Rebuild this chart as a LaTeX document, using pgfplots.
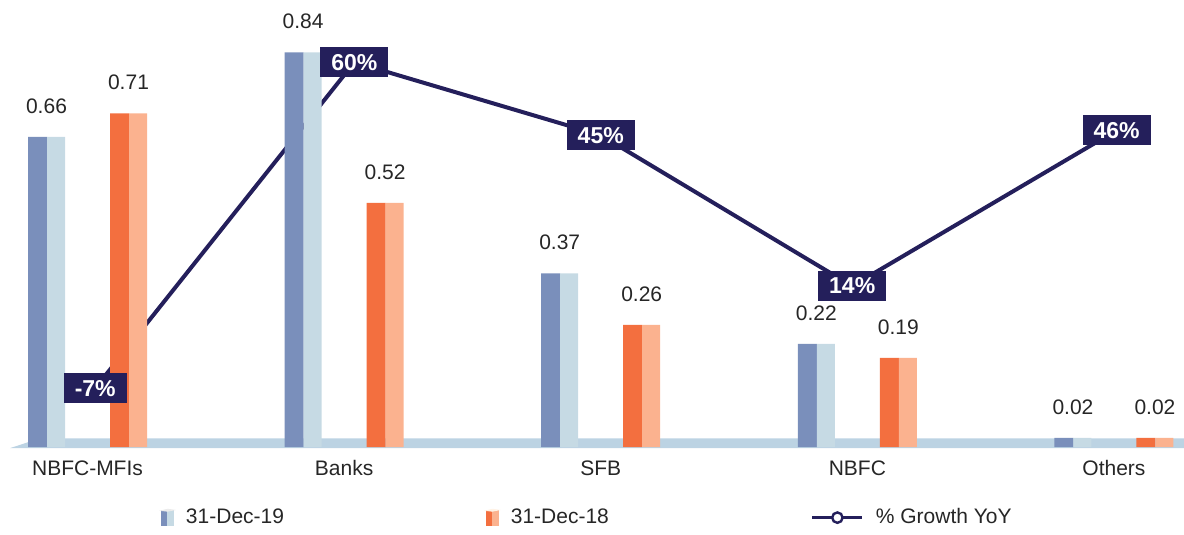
\documentclass[border=0pt]{standalone}
\usepackage{fontspec}
\setmainfont{Liberation Sans}
\usepackage{pgfplots}
\pgfplotsset{compat=1.18}

\definecolor{bfront}{HTML}{7A8FBB}
\definecolor{bside}{HTML}{C6DAE4}
\definecolor{ofront}{HTML}{F36F3F}
\definecolor{oside}{HTML}{FBB28F}
\definecolor{navy}{HTML}{241F5B}
\definecolor{floorblue}{HTML}{BCD3E3}
\definecolor{txt}{HTML}{262626}

% bar values per category: NBFC-MFIs, Banks, SFB, NBFC, Others
% gx = where the growth marker sits along the axis
\pgfplotstableread{
x   dec19  dec18  growth  gx
0   0.66   0.71   -7      0.03
1   0.84   0.52   60      1.04
2   0.37   0.26   45      2.00
3   0.22   0.19   14      2.98
4   0.02   0.02   46      4.01
}\datatable

\pgfplotsset{
  base/.style={width=592pt, height=264pt, scale only axis,
    xmin=-0.341, xmax=4.273, clip=false},
  pct/.style={base, hide axis, ymin=-35.77, ymax=72.76},
  barlabel/.style={nodes near coords, point meta=y,
    nodes near coords={\pgfmathprintnumber[fixed,fixed zerofill,precision=2]{\pgfplotspointmeta}},
    every node near coord/.append style={font=\fontsize{10.5}{12}\selectfont, text=txt,
      inner sep=0pt, anchor=south, yshift=11.5pt, xshift=#1}},
}

\begin{document}
\begin{tikzpicture}
% growth line, behind the bars
\begin{axis}[pct]
\addplot[navy, line width=2pt] table[x=gx, y=growth] {\datatable};
\end{axis}

\begin{axis}[base,
  ymin=-0.1723, ymax=0.951,
  axis line style={draw=none}, ytick=\empty,
  xtick={0,1,2,3,4},
  xticklabels={NBFC-MFIs, Banks, SFB, NBFC, Others},
  major tick length=0pt,
  xticklabel style={font=\fontsize{10.5}{12}\selectfont, text=txt, anchor=north, inner sep=0pt, yshift=34pt},
  /pgf/number format/assume math mode=true,
  legend columns=3,
  legend style={at={(0.497,0.02)}, anchor=center, draw=none, fill=none,
    font=\fontsize{10.5}{12}\selectfont, text=txt,
    /tikz/every odd column/.append style={column sep=4pt},
    /tikz/every even column/.append style={column sep=99pt}},
]
% floor band
\addplot[fill=floorblue, draw=none, forget plot] coordinates
  {(-0.302,-0.002) (-0.185,0.019) (4.273,0.019) (4.273,-0.002)} -- cycle;

\addplot[ybar, bar width=9.5pt, bar shift=-25pt, fill=bfront, draw=none, forget plot, barlabel=-20.5pt]
  table[x=x, y=dec19] {\datatable};
\addplot[ybar, bar width=9pt, bar shift=-15.75pt, fill=bside, draw=none, forget plot]
  table[x=x, y=dec19] {\datatable};
\addplot[ybar, bar width=9.5pt, bar shift=16pt, fill=ofront, draw=none, forget plot, barlabel=20.5pt]
  table[x=x, y=dec18] {\datatable};
\addplot[ybar, bar width=9pt, bar shift=25.25pt, fill=oside, draw=none, forget plot]
  table[x=x, y=dec18] {\datatable};

\addlegendimage{legend image code/.code={
  \fill[bfront] (0pt,-4pt) rectangle (3pt,3.5pt);
  \fill[bside] (3pt,-4pt) rectangle (6pt,3.5pt);
  \fill[black!8] (0pt,3.5pt) -- (3pt,3.2pt) -- (6pt,3.8pt) -- (3pt,4.2pt) -- cycle;}}
\addlegendimage{legend image code/.code={
  \fill[ofront] (0pt,-4pt) rectangle (3pt,3.5pt);
  \fill[oside] (3pt,-4pt) rectangle (6pt,3.5pt);
  \fill[orange!10] (0pt,3.5pt) -- (3pt,3.2pt) -- (6pt,3.8pt) -- (3pt,4.2pt) -- cycle;}}
\addlegendimage{legend image code/.code={
  \draw[navy, line width=1.5pt] (0pt,0pt) -- (25pt,0pt);
  \draw[navy, fill=white, line width=1.2pt] (12.5pt,0pt) circle (2.6pt);}}
\legend{31-Dec-19, 31-Dec-18, \% Growth YoY}
\end{axis}

% growth labels, in front of the bars
\begin{axis}[pct, /pgf/number format/assume math mode=true]
\addplot[draw=none, nodes near coords, point meta=y,
  nodes near coords={\pgfmathprintnumber[fixed,precision=0]{\pgfplotspointmeta}\%},
  every node near coord/.append style={anchor=center, fill=navy, text=white,
    font=\fontsize{11.5}{13}\selectfont\bfseries, inner xsep=5.5pt, inner ysep=0pt,
    minimum height=15pt}]
  table[x=gx, y=growth] {\datatable};
\end{axis}
\end{tikzpicture}
\end{document}
